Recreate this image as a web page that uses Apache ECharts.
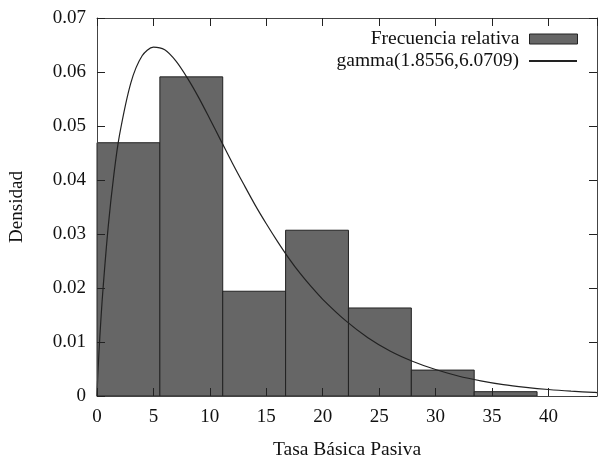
<!DOCTYPE html>
<html>
<head>
<meta charset="utf-8">
<script src="https://cdn.jsdelivr.net/npm/echarts@6/dist/echarts.min.js"></script>
<style>
  html, body { margin: 0; padding: 0; background: #fff; }
  #chart { width: 600px; height: 460px; }
</style>
</head>
<body>
<div id="chart"></div>
<script>
// histogram bins (start, end) and relative frequency density
const binStart = [0, 5.57, 11.14, 16.71, 22.28, 27.85, 33.42];
const binEnd = [5.57, 11.14, 16.71, 22.28, 27.85, 33.42, 38.99];
const binDensity = [0.0469, 0.0591, 0.0194, 0.0307, 0.0163, 0.0048, 0.0008];

// fitted gamma curve
const curveX = [0, 0.05, 0.1, 0.25, 0.5, 1, 1.5, 2, 3, 4, 5, 6, 7, 8, 9, 10, 11, 12, 13, 14,
  15, 16, 17, 18, 19, 20, 22, 24, 26, 28, 30, 32, 34, 36, 38, 40, 42, 44, 44.3];
const curveY = [0, 0.0028, 0.0051, 0.0109, 0.0189, 0.0315, 0.0411, 0.0484, 0.0580, 0.0630,
  0.0646, 0.0641, 0.0620, 0.0589, 0.0553, 0.0513, 0.0472, 0.0431, 0.0392, 0.0354,
  0.0319, 0.0286, 0.0255, 0.0227, 0.0202, 0.0179, 0.0140, 0.0108, 0.0083, 0.0064,
  0.0049, 0.0037, 0.0028, 0.0021, 0.0016, 0.0012, 0.0009, 0.00067, 0.00064];

const legendBar = 'Frecuencia relativa';
const legendCurve = 'gamma(1.8556,6.0709)';

const font = 'Liberation Serif';
const chart = echarts.init(document.getElementById('chart'));

const histData = binStart.map((s, i) => [s, binEnd[i], binDensity[i]]);
const curveData = curveX.map((x, i) => [x, curveY[i]]);

function ticks() {
  return { show: true, inside: true, length: 8, lineStyle: { color: '#222', width: 1 } };
}
function axisLine() {
  return { show: true, onZero: false, lineStyle: { color: '#444', width: 1 } };
}

chart.setOption({
  animation: false,
  textStyle: { fontFamily: font },
  grid: { left: 97, right: 3, top: 18, bottom: 64, show: false, containLabel: false, outerBoundsMode: 'none' },
  legend: [
    {
      data: [{ name: legendBar, icon: 'rect', itemStyle: { color: '#666', borderColor: '#222', borderWidth: 1 } }],
      right: 17, top: 24, align: 'right', itemWidth: 48, itemHeight: 10,
      textStyle: { fontFamily: font, fontSize: 19.5, color: '#111', padding: [0, 5, 0, 0] }
    },
    {
      data: [{ name: legendCurve, itemStyle: { opacity: 0 } }],
      right: 17, top: 46, align: 'right', itemWidth: 48, itemHeight: 10,
      textStyle: { fontFamily: font, fontSize: 19.5, color: '#111', padding: [0, 5, 0, 0] }
    }
  ],
  xAxis: [
    {
      type: 'value', min: 0, max: 44.3, interval: 5, z: 10,
      name: 'Tasa Básica Pasiva', nameLocation: 'middle', nameGap: 44,
      nameTextStyle: { fontFamily: font, fontSize: 19.5, color: '#111' },
      axisLine: axisLine(),
      axisTick: ticks(),
      axisLabel: { fontFamily: font, fontSize: 19, color: '#111', margin: 12, showMaxLabel: false },
      splitLine: { show: false }
    },
    {
      type: 'value', position: 'top', min: 0, max: 44.3, interval: 5, z: 10,
      axisLine: axisLine(),
      axisTick: ticks(), axisLabel: { show: false }, splitLine: { show: false }
    }
  ],
  yAxis: [
    {
      type: 'value', min: 0, max: 0.07, interval: 0.01, z: 10,
      name: 'Densidad', nameLocation: 'middle', nameGap: 70,
      nameTextStyle: { fontFamily: font, fontSize: 19, color: '#111' },
      axisLine: axisLine(),
      axisTick: ticks(),
      axisLabel: {
        fontFamily: font, fontSize: 19, color: '#111', margin: 11,
        formatter: v => (v === 0 ? '0' : v.toFixed(2))
      },
      splitLine: { show: false }
    },
    {
      type: 'value', position: 'right', min: 0, max: 0.07, interval: 0.01, z: 10,
      axisLine: axisLine(),
      axisTick: ticks(), axisLabel: { show: false }, splitLine: { show: false }
    }
  ],
  series: [
    {
      name: legendBar,
      type: 'custom',
      data: histData,
      encode: { x: [0, 1], y: 2 },
      itemStyle: { color: '#666' },
      renderItem(params, api) {
        const p0 = api.coord([api.value(0), api.value(2)]);
        const p1 = api.coord([api.value(1), 0]);
        return {
          type: 'rect',
          shape: { x: p0[0], y: p0[1], width: p1[0] - p0[0], height: p1[1] - p0[1] },
          style: { fill: '#666', stroke: '#222', lineWidth: 1 }
        };
      },
      z: 2
    },
    {
      name: legendCurve,
      type: 'line',
      data: curveData,
      showSymbol: false,
      symbol: 'none',
      smooth: 0.3,
      lineStyle: { color: '#222', width: 1.2 },
      itemStyle: { color: '#222' },
      z: 3
    }
  ]
});
</script>
</body>
</html>
